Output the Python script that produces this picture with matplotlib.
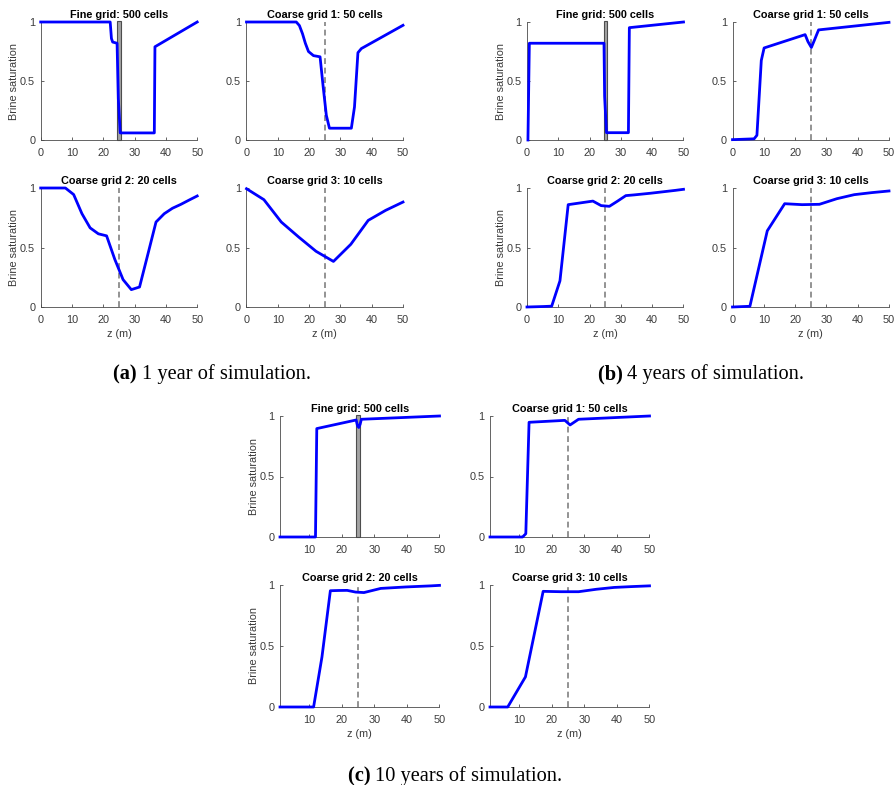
import matplotlib
matplotlib.use("Agg")
import matplotlib.pyplot as plt
from matplotlib.patches import Rectangle

plt.rcParams['font.family'] = ['Liberation Sans', 'DejaVu Sans']

W, H = 895, 785

# ---------------- data ----------------
titles = ["Fine grid: 500 cells", "Coarse grid 1: 50 cells",
          "Coarse grid 2: 20 cells", "Coarse grid 3: 10 cells"]
captions = ["1 year of simulation.", "4 years of simulation.", "10 years of simulation."]
caption_tags = ["(a)", "(b)", "(c)"]
yticks = [0, 0.5, 1]
ytick_labels = ["0", "0.5", "1"]
xticks_ab = [0, 10, 20, 30, 40, 50]
xticks_c = [10, 20, 30, 40, 50]
barrier_z = 25
barrier_lo = 24.45
barrier_w = 1.1

z20_ab = [0, 2.63, 5.26, 7.89, 10.53, 13.16, 15.79, 18.42, 21.05, 23.68,
          26.32, 28.95, 31.58, 34.21, 36.84, 39.47, 42.11, 44.74, 47.37, 50]
z10_ab = [0, 5.56, 11.11, 16.67, 22.22, 27.78, 33.33, 38.89, 44.44, 50]
z20_c = [1, 3.58, 6.16, 8.74, 11.32, 13.89, 16.47, 19.05, 21.63, 24.21,
         26.79, 29.37, 31.95, 34.53, 37.11, 39.68, 42.26, 44.84, 47.42, 50]
z10_c = [1, 6.44, 11.89, 17.33, 22.78, 28.22, 33.67, 39.11, 44.56, 50]

# (a) 1 year
a_fine_z = [0, 22.2, 22.6, 23.0, 24.4, 24.8, 25.4, 36.3, 36.5, 50]
a_fine_s = [1, 1, 0.86, 0.83, 0.82, 0.35, 0.06, 0.06, 0.79, 1.0]
a_c1_z = [0, 15.9, 16.9, 17.9, 18.8, 19.8, 21.4, 23.5, 24.5, 25.5, 26.5, 33.5, 34.5, 35.6, 36.7, 50]
a_c1_s = [1, 1, 0.97, 0.90, 0.82, 0.75, 0.715, 0.705, 0.45, 0.21, 0.10, 0.10, 0.28, 0.74, 0.775, 0.972]
a_c2_s = [1, 1, 1, 1, 0.945, 0.785, 0.665, 0.615, 0.598, 0.40, 0.23, 0.146, 0.168,
          0.44, 0.714, 0.784, 0.83, 0.862, 0.898, 0.933]
a_c3_s = [0.994, 0.902, 0.714, 0.588, 0.468, 0.383, 0.527, 0.728, 0.812, 0.882]

# (b) 4 years
b_fine_z = [0.3, 0.75, 24.6, 24.8, 25.4, 32.4, 32.7, 50]
b_fine_s = [0, 0.82, 0.82, 0.37, 0.062, 0.062, 0.952, 1.0]
b_c1_z = [0, 6.9, 7.8, 9.2, 10.1, 23.2, 24.1, 25.2, 26.2, 27.5, 50]
b_c1_s = [0.003, 0.01, 0.04, 0.674, 0.78, 0.893, 0.834, 0.784, 0.848, 0.933, 0.997]
b_c2_s = [0.0, 0.002, 0.004, 0.007, 0.22, 0.86, 0.87, 0.88, 0.89, 0.852, 0.846,
          0.89, 0.936, 0.942, 0.949, 0.956, 0.964, 0.972, 0.98, 0.989]
b_c3_s = [0.0, 0.006, 0.64, 0.868, 0.86, 0.863, 0.91, 0.944, 0.961, 0.975]

# (c) 10 years
c_fine_z = [1, 11.9, 12.3, 24.4, 24.8, 25.2, 25.6, 26.0, 50]
c_fine_s = [0.0, 0.0, 0.896, 0.967, 0.92, 0.905, 0.93, 0.973, 1.0]
c_c1_z = [1, 11.0, 12.0, 13.0, 24.0, 25.6, 28.2, 50]
c_c1_s = [0, 0, 0.027, 0.948, 0.964, 0.926, 0.973, 1.0]
c_c2_s = [0, 0, 0, 0, 0, 0.41, 0.953, 0.955, 0.956, 0.942, 0.938, 0.955, 0.972,
          0.976, 0.98, 0.984, 0.987, 0.99, 0.993, 0.997]
c_c3_s = [0, 0, 0.247, 0.948, 0.945, 0.945, 0.965, 0.98, 0.987, 0.993]

groups = [
    dict(series=[(a_fine_z, a_fine_s), (a_c1_z, a_c1_s), (z20_ab, a_c2_s), (z10_ab, a_c3_s)],
         xlim=(0, 50), xticks=xticks_ab,
         cols=(40.7, 246.5), w=156.5, rows=((22, 140), (188, 307)),
         cap=(212, 379)),
    dict(series=[(b_fine_z, b_fine_s), (b_c1_z, b_c1_s), (z20_ab, b_c2_s), (z10_ab, b_c3_s)],
         xlim=(0, 50), xticks=xticks_ab,
         cols=(527, 732.5), w=156.5, rows=((22, 140), (188, 307)),
         cap=(701, 379)),
    dict(series=[(c_fine_z, c_fine_s), (c_c1_z, c_c1_s), (z20_c, c_c2_s), (z10_c, c_c3_s)],
         xlim=(1, 50), xticks=xticks_c,
         cols=(280, 490), w=159.5, rows=((416, 537), (585, 707)),
         cap=(455, 781)),
]

fig = plt.figure(figsize=(W / 100, H / 100), dpi=100)

axis_col = '#4a4a4a'
fs = 7.8

for gi, g in enumerate(groups):
    for k in range(4):
        r, c = divmod(k, 2)
        left = g['cols'][c]
        top, bot = g['rows'][r]
        ax = fig.add_axes([left / W, 1 - bot / H, g['w'] / W, (bot - top) / H])
        z, s = g['series'][k]
        if k == 0:
            ax.add_patch(Rectangle((barrier_lo, 0), barrier_w, 1.012, facecolor='#a3a3a3',
                                   edgecolor='#4d4d4d', lw=0.8, zorder=2, clip_on=False))
        else:
            ax.axvline(barrier_z, color='#808080', lw=1.2, ls=(0, (3.5, 2.2)), zorder=2)
        ax.plot(z, s, color='#0000ff', lw=2.0, zorder=3, clip_on=False,
                solid_joinstyle='round')
        ax.set_xlim(*g['xlim'])
        ax.set_ylim(0, 1)
        ax.set_xticks(g['xticks'])
        ax.set_yticks(yticks)
        ax.set_yticklabels(ytick_labels)
        for sp in ['top', 'right']:
            ax.spines[sp].set_visible(False)
        for sp in ['left', 'bottom']:
            ax.spines[sp].set_color(axis_col)
            ax.spines[sp].set_linewidth(0.6)
        ax.tick_params(direction='in', length=2.5, width=0.6, colors=axis_col,
                       labelsize=fs, labelcolor='#3a3a3a')
        ax.tick_params(axis='x', pad=5.5)
        ax.tick_params(axis='y', pad=4)
        ax.set_title(titles[k], fontsize=fs, fontweight='bold', pad=3, color='black')
        if c == 0:
            ax.set_ylabel("Brine saturation", fontsize=fs, color='#3a3a3a', labelpad=0.4)
        if r == 1:
            ax.set_xlabel("z (m)", fontsize=fs, color='#3a3a3a', labelpad=3)
        ax.patch.set_alpha(0)

    cx, cy = g['cap']
    t1 = fig.text(0, 0, caption_tags[gi] + " ", family='Liberation Serif',
                  fontweight='bold', fontsize=14.7, va='baseline')
    t2 = fig.text(0, 0, captions[gi], family='Liberation Serif',
                  fontsize=14.7, va='baseline')
    fig.canvas.draw()
    rr = fig.canvas.get_renderer()
    w1 = t1.get_window_extent(rr).width
    w2 = t2.get_window_extent(rr).width
    x0 = cx - (w1 + w2) / 2
    t1.set_position((x0 / W, 1 - cy / H))
    t2.set_position(((x0 + w1) / W, 1 - cy / H))

fig.savefig("out.png", dpi=100)
